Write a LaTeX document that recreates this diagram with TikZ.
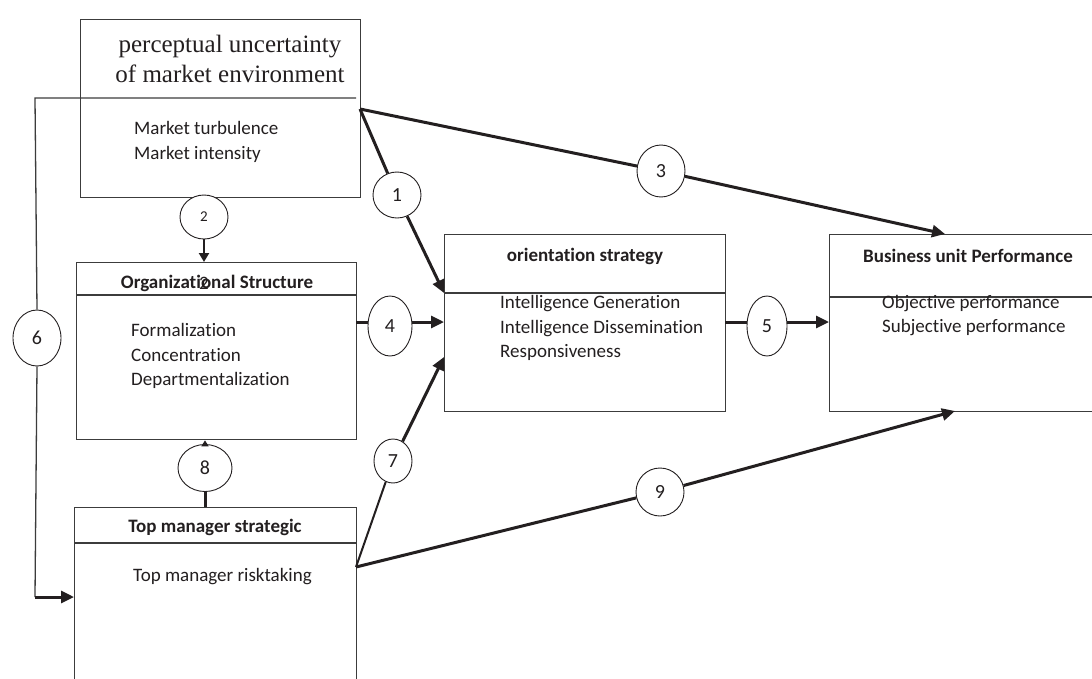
\documentclass[tikz,border=0pt]{standalone}
\usepackage{fontspec}
\setmainfont{Carlito}[RawFeature={-liga;-clig}]
\newfontfamily\serifA{Liberation Serif}
\usetikzlibrary{arrows.meta,shapes.geometric}
\definecolor{ink}{HTML}{231F20}
\definecolor{edge}{HTML}{3C3C3C}
\begin{document}
\begin{tikzpicture}[x=1pt,y=-1pt,
  box/.style={draw=edge, line width=1.3pt, inner sep=0pt, anchor=north west},
  num/.style={draw=ink, line width=0.9pt, ellipse, inner sep=0pt, fill=white, text=ink, font=\fontsize{20}{20}\selectfont},
  ttl/.style={text=ink, inner sep=0pt, font=\fontsize{19}{23}\selectfont\bfseries},
  itm/.style={text=ink, inner sep=0pt, anchor=west, align=left, font=\fontsize{19}{24.5}\selectfont},
  thk/.style={draw=ink, line width=3pt},
  arr/.style={draw=ink, line width=3pt, -{Triangle[length=13pt,width=12pt]}},
  arrs/.style={draw=ink, line width=2.5pt, -{Triangle[length=9pt,width=10pt]}},
  thn/.style={draw=edge, line width=1.3pt}]
\clip (0,0) rectangle (1092,678);
\fill[white] (0,0) rectangle (1092,678);
% boxes
\node[box, minimum width=280pt, minimum height=178pt] (b1) at (80,19) {};
\node[box, minimum width=280pt, minimum height=177pt] (b2) at (76,262) {};
\node[box, minimum width=282pt, minimum height=200pt] (b3) at (74,507) {};
\node[box, minimum width=281pt, minimum height=177pt] (b4) at (444,234) {};
\node[box, minimum width=275pt, minimum height=177pt] (b5) at (829,234) {};
% dividers
\coordinate (d1l) at (35,98); \coordinate (d1r) at (356,98);
\draw[thn] (b2.north west |- 0,295) -- (b2.north east |- 0,295);
\draw[thn] (b3.north west |- 0,543) -- (b3.north east |- 0,543);
\draw[thn] (b4.north west |- 0,293) -- (b4.north east |- 0,293);
\draw[thn] (b5.north west |- 0,297) -- (b5.north east |- 0,297);
% texts
\node[text=ink, inner sep=0pt, align=center, font=\serifA\fontsize{25}{30}\selectfont] (t1) at (230,59) {perceptual uncertainty\\of market environment};
\node[itm] (i1) at (134,142) {Market turbulence\\Market intensity};
\node[ttl] (t2) at (217,283) {Organizational Structure};
\node[text=ink, inner sep=0pt, font=\fontsize{19}{23}\selectfont] (o2) at (204,283) {2};
\node[itm] (i2) at (131,356) {Formalization\\Concentration\\Departmentalization};
\node[ttl] (t3) at (215,527) {Top manager strategic};
\node[itm] (i3) at (133,577) {Top manager risktaking};
\node[ttl] (t4) at (585,256) {orientation strategy};
\node[itm] (i4) at (500,328) {Intelligence Generation\\Intelligence Dissemination\\Responsiveness};
\node[ttl] (t5) at (968,256) {Business unit Performance};
\node[itm] (i5) at (882,315.5) {Objective performance\\Subjective performance};
% number circles
\node[num, minimum width=48pt, minimum height=46pt] (c1) at (397,195) {1};
\node[num, minimum width=48pt, minimum height=44pt, font=\fontsize{15}{15}\selectfont] (c2) at (204,217) {2};
\node[num, minimum width=48pt, minimum height=52pt] (c3) at (661,171) {3};
\node[num, minimum width=44pt, minimum height=60pt] (c4) at (390,326) {4};
\node[num, minimum width=40pt, minimum height=60pt] (c5) at (767,326) {5};
\node[num, minimum width=48pt, minimum height=56pt] (c6) at (37,338) {6};
\node[num, minimum width=38pt, minimum height=44pt] (c7) at (393,461) {7};
\node[num, minimum width=54pt, minimum height=47pt] (c8) at (205,468) {8};
\node[num, minimum width=48pt, minimum height=48pt] (c9) at (660,492) {9};
% anchor points
\coordinate (k1) at (360,109);
\coordinate (a1) at (444,293);
\coordinate (a3) at (945,234);
\coordinate (k4) at (356,322);
\coordinate (a4) at (444,322);
\coordinate (k5) at (725,322);
\coordinate (a5) at (829,322);
\coordinate (k6) at (35,597);
\coordinate (k7) at (356,567);
\coordinate (a7) at (444,357);
\coordinate (a9) at (955,411);
% connectors
\draw[thn] (d1r) -- (d1l) -- (c6.north);
\draw[thn] (c6.south) -- (k6);
\draw[arr] (k6) -- (b3.west |- k6);
\draw[thk] (k1) -- (c1);
\draw[arr] (c1) -- (a1);
\draw[thk] (k1) -- (c3);
\draw[arr] (c3) -- (a3);
\draw[arrs] (c2.south) -- (c2.south |- b2.north);
\draw[thk] (k4) -- (k4 -| c4.west);
\draw[arr] (a4 -| c4.east) -- (a4);
\draw[thk] (k5) -- (k5 -| c5.west);
\draw[arr] (a5 -| c5.east) -- (a5);
\draw[draw=ink, line width=2pt] (k7) -- (c7);
\draw[arr] (c7) -- (a7);
\draw[thk] (k7) -- (c9);
\draw[arr] (c9) -- (a9);
\draw[thk] (c8.south |- b3.north) -- (c8.south);
\draw[draw=ink, line width=1.5pt, -{Triangle[length=6pt,width=7pt]}] (c8.north) -- (c8.north |- b2.south);
\end{tikzpicture}
\end{document}
